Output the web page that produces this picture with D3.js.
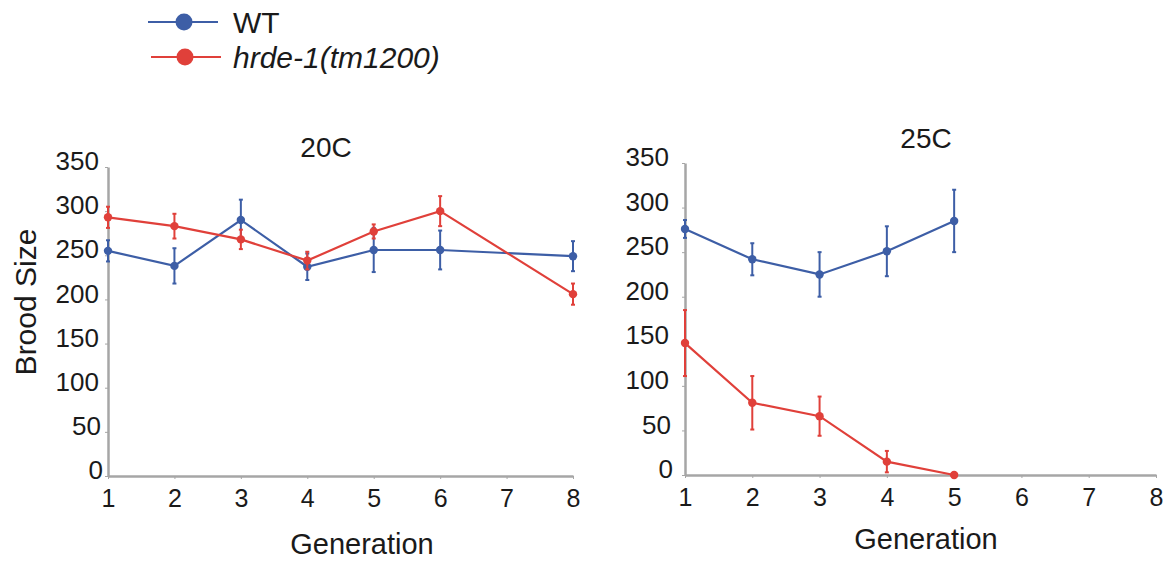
<!DOCTYPE html>
<html>
<head>
<meta charset="utf-8">
<script src="https://cdn.jsdelivr.net/npm/d3@7/dist/d3.min.js"></script>
<style>
  body { margin: 0; background: #fff; }
  text { font-family: "Liberation Sans", Arial, sans-serif; fill: #1a1a1a; }
  .axis path, .axis line { stroke: #a6a6a6; }
</style>
</head>
<body>
<script>
// generations on the x axis
var generations = [1, 2, 3, 4, 5, 6, 7, 8];
var yTicks      = [0, 50, 100, 150, 200, 250, 300, 350];

// 20C panel (null = not measured)
var wt20       = [255, 238, 290, 237, 256, 256, null, 249];
var wt20Err    = [ 12,  20,  23,  15,  25,  22, null,  17];
var hrde20     = [293, 283, 268, 244, 277, 300, null, 206];
var hrde20Err  = [ 12,  14,  11,  10,   8,  17, null,  12];

// 25C panel (only generations 1-5)
var wt25       = [276, 242, 225, 251, 285];
var wt25Err    = [ 10,  18,  25,  28,  35];
var hrde25     = [148,  81,  66,  15,   0];
var hrde25Err  = [ 37,  30,  22,  12,   0];

var seriesNames = ["WT", "hrde-1(tm1200)"];
var blue = "#3d5ea6";
var red  = "#e0403a";

var svg = d3.select("body").append("svg")
    .attr("width", 1166)
    .attr("height", 564);

// legend
var legend = svg.append("g");
[[blue, 22, false], [red, 57, true]].forEach(function(l, i) {
    var g = legend.append("g").attr("transform", "translate(0," + l[1] + ")");
    g.append("line").attr("x1", 148 + 3*i).attr("x2", 218 + 3*i)
        .attr("stroke", l[0]).attr("stroke-width", 2.2);
    g.append("circle").attr("cx", 184 + i).attr("r", 8.5).attr("fill", l[0]);
    g.append("text").attr("x", 233).attr("dy", "0.35em")
        .style("font-size", "30px")
        .style("font-style", l[2] ? "italic" : "normal")
        .text(seriesNames[i]);
});

// one panel
function BroodPlot(opts) {
    var x = d3.scaleLinear().domain([1, 8]).range([opts.x0, opts.x1]);
    var y = d3.scaleLinear().domain([0, 350]).range([opts.y0, opts.y1]);

    var g = svg.append("g");

    g.append("g")
        .attr("class", "axis")
        .attr("transform", "translate(0," + opts.y0 + ")")
        .call(d3.axisBottom(x).tickValues(generations).tickFormat(d3.format("d"))
            .tickSize(3).tickSizeOuter(0).tickPadding(10))
        .call(function(a) {
            a.select(".domain").attr("stroke-width", 2.5);
            a.selectAll("text").style("font-size", "25px");
        });

    g.append("g")
        .attr("class", "axis")
        .attr("transform", "translate(" + opts.x0 + ",0)")
        .call(d3.axisLeft(y).tickValues(yTicks).tickFormat(d3.format("d"))
            .tickSize(3).tickSizeOuter(0).tickPadding(opts.pad))
        .call(function(a) {
            a.select(".domain").attr("stroke-width", 2.5);
            a.selectAll("text").style("font-size", "26px")
                .attr("dy", "0.1em")
                .attr("dx", function(d) { return d === 0 ? 4 : (d === 50 ? 2 : 0); });
        });

    g.append("text")
        .attr("x", opts.titleX).attr("y", opts.titleY)
        .style("text-anchor", "middle").style("font-size", "28px")
        .text(opts.title);

    g.append("text")
        .attr("x", opts.labelX).attr("y", opts.labelY)
        .style("text-anchor", "middle").style("font-size", "29px")
        .text("Generation");

    var line = d3.line()
        .x(function(d) { return x(d.gen); })
        .y(function(d) { return y(d.v); });

    opts.series.forEach(function(s) {
        var pts = s.values.map(function(v, i) {
            return { gen: generations[i], v: v, e: s.err[i] };
        }).filter(function(d) { return d.v !== null; });

        var sg = g.append("g");
        sg.append("path").datum(pts)
            .attr("d", line)
            .attr("fill", "none")
            .attr("stroke", s.color)
            .attr("stroke-width", 2.2);

        var eb = sg.selectAll(".err").data(pts.filter(function(d) { return d.e > 0; }))
            .enter().append("g");
        eb.append("line")
            .attr("x1", function(d) { return x(d.gen); })
            .attr("x2", function(d) { return x(d.gen); })
            .attr("y1", function(d) { return y(d.v - d.e); })
            .attr("y2", function(d) { return y(d.v + d.e); })
            .attr("stroke", s.color).attr("stroke-width", 2);
        [-1, 1].forEach(function(sign) {
            eb.append("line")
                .attr("x1", function(d) { return x(d.gen) - 2; })
                .attr("x2", function(d) { return x(d.gen) + 2; })
                .attr("y1", function(d) { return y(d.v + sign*d.e); })
                .attr("y2", function(d) { return y(d.v + sign*d.e); })
                .attr("stroke", s.color).attr("stroke-width", 2);
        });

        sg.selectAll("circle").data(pts).enter().append("circle")
            .attr("cx", function(d) { return x(d.gen); })
            .attr("cy", function(d) { return y(d.v); })
            .attr("r", 4.2)
            .attr("fill", s.color);
    });
}

BroodPlot({
    x0: 108, x1: 573, y0: 476, y1: 167, pad: 6,
    title: "20C", titleX: 326, titleY: 157,
    labelX: 362, labelY: 554,
    series: [
        { values: wt20,   err: wt20Err,   color: blue },
        { values: hrde20, err: hrde20Err, color: red }
    ]
});

BroodPlot({
    x0: 685, x1: 1156, y0: 475, y1: 163, pad: 13,
    title: "25C", titleX: 926, titleY: 148,
    labelX: 926, labelY: 549,
    series: [
        { values: wt25,   err: wt25Err,   color: blue },
        { values: hrde25, err: hrde25Err, color: red }
    ]
});

// y axis label, only on the left panel
svg.append("text")
    .attr("transform", "translate(36,302) rotate(-90)")
    .style("text-anchor", "middle").style("font-size", "30px")
    .text("Brood Size");
</script>
</body>
</html>
